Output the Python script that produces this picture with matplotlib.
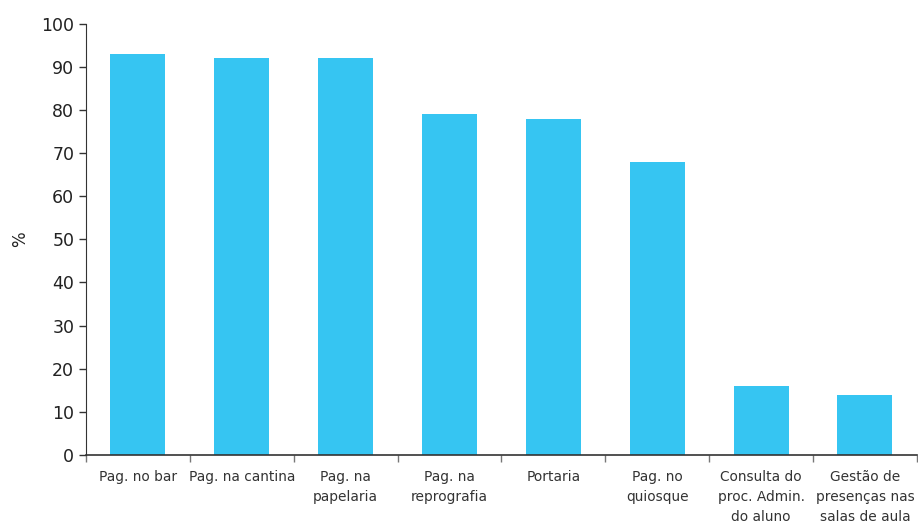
import matplotlib.pyplot as plt
import numpy as np

categorias = ['Pag. no bar', 'Pag. na cantina', 'Pag. na\npapelaria', 'Pag. na\nreprografia',
              'Portaria', 'Pag. no\nquiosque', 'Consulta do\nproc. Admin.\ndo aluno',
              'Gestão de\npresenças nas\nsalas de aula']
valores = [93, 92, 92, 79, 78, 68, 16, 14]

fig = plt.figure(figsize=(9.18, 5.24), dpi=100)
ax = fig.add_axes([0.0937, 0.1317, 0.905, 0.823])

x = np.arange(len(categorias))
ax.bar(x, valores, width=0.53, color='#36C5F2')

ax.set_xlim(-0.5, len(categorias) - 0.5)
ax.set_ylim(0, 100)
ax.set_yticks(range(0, 101, 10))
ax.tick_params(axis='y', labelsize=12.5, labelcolor='#222222', length=5, width=1, color='#333333')

ax.set_xticks(x)
ax.set_xticklabels(categorias, fontsize=9.9, color='#333333', linespacing=1.55)
ax.tick_params(axis='x', length=0, pad=11)
ax.set_xticks(np.arange(len(categorias) + 1) - 0.5, minor=True)
ax.tick_params(axis='x', which='minor', length=5, width=1, color='#777777')

for s in ['top', 'right']:
    ax.spines[s].set_visible(False)
ax.spines['left'].set_color('#333333')
ax.spines['bottom'].set_color('#333333')
ax.spines['bottom'].set_linewidth(1.2)

ax.set_ylabel('%', fontsize=12, color='#222222', labelpad=9)

plt.savefig('out.png', dpi=100)
